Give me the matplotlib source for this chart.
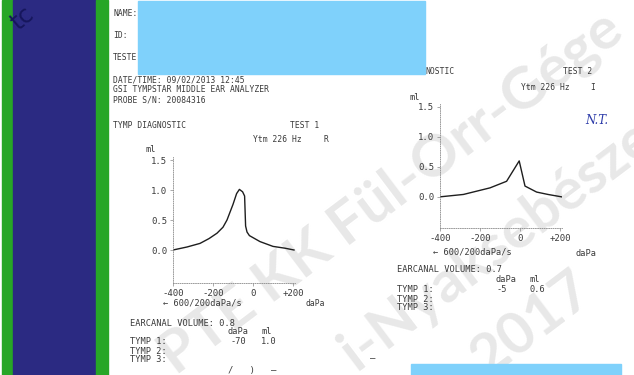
import numpy as np
import matplotlib
matplotlib.use("Agg")
import matplotlib.pyplot as plt
from matplotlib.patches import Rectangle

W, H = 634, 375

# tympanogram 1 (right ear, test 1)
p1 = [-400, -330, -265, -220, -180, -150, -130, -100, -82, -68, -52, -42, -37, -30, -18, 35, 100, 160, 205]
ml1 = [0.0, 0.05, 0.11, 0.19, 0.28, 0.38, 0.50, 0.76, 0.94, 1.01, 0.97, 0.90, 0.40, 0.30, 0.24, 0.14, 0.06, 0.03, 0.0]
# tympanogram 2 (test 2)
p2 = [-400, -283, -150, -67, -4, 25, 83, 140, 208]
ml2 = [0.0, 0.04, 0.15, 0.26, 0.60, 0.18, 0.08, 0.04, 0.0]

xticks = [-400, -200, 0, 200]
xtick_labels = ["-400", "-200", "0", "+200"]
yticks = [0.0, 0.5, 1.0, 1.5]
ytick_labels = ["0.0", "0.5", "1.0", "1.5"]

header = ["NAME:", "ID:", "TESTE", "DATE/TIME: 09/02/2013 12:45",
          "GSI TYMPSTAR MIDDLE EAR ANALYZER", "PROBE S/N: 20084316"]

ink = "#3a3a3a"
mono = "DejaVu Sans Mono"

fig = plt.figure(figsize=(W / 100, H / 100), dpi=100)
bg = fig.add_axes([0, 0, 1, 1])
bg.set_xlim(0, W)
bg.set_ylim(H, 0)
bg.axis("off")

# side bands of the scan
bg.add_patch(Rectangle((2, 0), 11, H, color="#27a627", zorder=1))
bg.add_patch(Rectangle((13, 0), 83, H, color="#2b2a82", zorder=1))
bg.add_patch(Rectangle((96, 0), 11.5, H, color="#27a627", zorder=1))
bg.text(6, 30, "tc", color="#16165c", fontsize=17, rotation=40, zorder=2)

# watermark
wm = dict(color="#e8e8e8", fontsize=42, fontweight="bold", rotation=37,
          rotation_mode="anchor", ha="left", va="baseline", zorder=0,
          family="Lato")
bg.text(176, 376, "PTE KK Fül-Orr-Gége", **wm)
bg.text(356, 372, "i-Nyaksebészet", **wm)
bg.text(488, 378, "2017", **wm)


def t(x, y, s, **kw):
    kw.setdefault("fontsize", 5.8)
    bg.text(x, y, s, family=mono, color=ink, va="center", ha="left", zorder=3, **kw)


for s, y in zip(header, [13, 35, 57, 80, 90, 100]):
    t(113, y, s)

# left printout
t(113, 125, "TYMP DIAGNOSTIC")
t(290, 125, "TEST 1")
t(253, 139, "Ytm 226 Hz")
t(324, 139, "R")
t(145, 150, "ml", fontsize=6.2)
t(163, 303, "← 600/200daPa/s", fontsize=6.2)
t(305, 304, "daPa")
t(130, 323, "EARCANAL VOLUME: 0.8", fontsize=6.2)
t(227, 332, "daPa", fontsize=6.2)
t(261, 332, "ml", fontsize=6.2)
t(130, 342, "TYMP 1:", fontsize=6.2)
t(230, 342, "-70", fontsize=6.2)
t(261, 342, "1.0", fontsize=6.2)
t(130, 351, "TYMP 2:", fontsize=6.2)
t(130, 360, "TYMP 3:", fontsize=6.2)
t(228, 371, "/   )   —", fontsize=6.5)
t(370, 359, "—", fontsize=6.5)

# right printout
t(425, 71, "NOSTIC")
t(563, 71, "TEST 2")
t(521, 87, "Ytm 226 Hz")
t(590, 87, "I")
t(409, 97, "ml", fontsize=6.2)
t(433, 252, "← 600/200daPa/s", fontsize=6.2)
t(576, 253, "daPa", fontsize=6.2)
t(397, 270, "EARCANAL VOLUME: 0.7", fontsize=6.2)
t(496, 280, "daPa", fontsize=6.2)
t(530, 280, "ml", fontsize=6.2)
t(397, 290, "TYMP 1:", fontsize=6.2)
t(497, 290, "-5", fontsize=6.2)
t(530, 290, "0.6", fontsize=6.2)
t(397, 299, "TYMP 2:", fontsize=6.2)
t(397, 308, "TYMP 3:", fontsize=6.2)
bg.text(585, 120, "N.T.", color="#2b3aa8", fontsize=8.5, style="italic",
        family="DejaVu Serif", va="center", zorder=3)

# redaction boxes
bg.add_patch(Rectangle((138, 1), 287, 73, color="#7fd1fb", zorder=5))
bg.add_patch(Rectangle((411, 364), 210, 12, color="#7fd1fb", zorder=5))


def px_axes(left, top, w, h):
    return fig.add_axes([left / W, 1 - (top + h) / H, w / W, h / H])


def tymp(ax, p, ml, ybot):
    ax.patch.set_alpha(0)
    ax.plot(p, ml, color="#1e1e1e", lw=1.0)
    ax.set_xlim(-400, 210)
    ax.set_ylim(ybot, 1.55)
    ax.set_xticks(xticks)
    ax.set_xticklabels(xtick_labels)
    ax.set_yticks(yticks)
    ax.set_yticklabels(ytick_labels)
    for side in ["top", "right"]:
        ax.spines[side].set_visible(False)
    for side in ["left", "bottom"]:
        ax.spines[side].set_color("#8a8a8a")
        ax.spines[side].set_linewidth(0.6)
        ax.spines[side].set_linestyle(":")
    ax.tick_params(length=2, width=0.5, color="#888888", pad=2,
                   labelsize=6.5, labelcolor=ink)
    for lab in ax.get_xticklabels() + ax.get_yticklabels():
        lab.set_family(mono)


ax1 = px_axes(173, 157, 122, 126)
tymp(ax1, p1, ml1, -0.55)
ax2 = px_axes(440, 104, 122, 124)
tymp(ax2, p2, ml2, -0.52)

fig.savefig("out.png", dpi=100)
